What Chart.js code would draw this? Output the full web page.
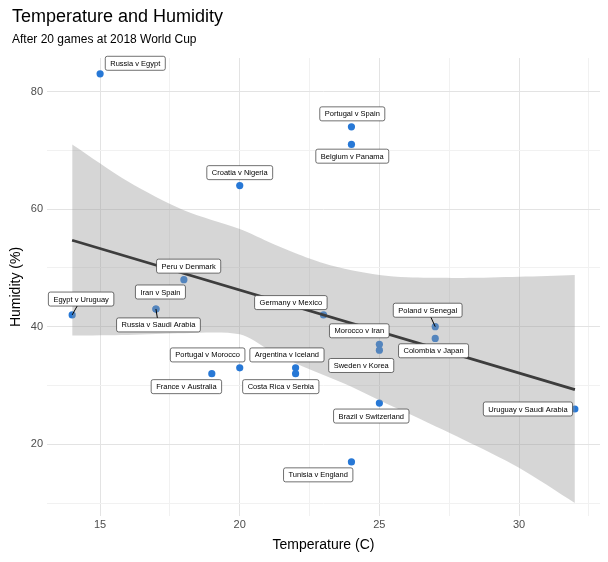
<!DOCTYPE html>
<html>
<head>
<meta charset="utf-8">
<script src="https://cdn.jsdelivr.net/npm/chart.js@4.4.1/dist/chart.umd.min.js"></script>
<style>
  body { margin: 0; background: #fff; }
  #wrap { width: 608px; height: 562px; }
</style>
</head>
<body>
<div id="wrap"><canvas id="chart"></canvas></div>
<script>
// Partidos
const games = ['Russia v Egypt', 'Portugal v Spain', 'Belgium v Panama', 'Croatia v Nigeria', 'Peru v Denmark',
  'Iran v Spain', 'Russia v Saudi Arabia', 'Egypt v Uruguay', 'Germany v Mexico', 'Poland v Senegal',
  'Colombia v Japan', 'Morocco v Iran', 'Sweden v Korea', 'Portugal v Morocco', 'Argentina v Iceland',
  'Costa Rica v Serbia', 'France v Australia', 'Brazil v Switzerland', 'Uruguay v Saudi Arabia', 'Tunisia v England'];
const temperature = [15, 24, 24, 20, 18, 17, 17, 14, 23, 27, 27, 25, 25, 20, 22, 22, 19, 25, 32, 24];
const humidity = [83, 74, 71, 64, 48, 43, 43, 42, 42, 40, 38, 37, 36, 33, 33, 32, 32, 27, 26, 17];

// Posición de las etiquetas (en unidades de datos) y si llevan segmento
const labelX = [16.26, 24.03, 24.03, 20, 18.17, 17.16, 17.09, 14.32, 21.83, 26.73, 26.94, 24.28, 24.35, 18.85, 21.69, 21.47, 18.09, 24.71, 30.32, 22.81];
const labelY = [84.8, 76.2, 69.0, 66.2, 50.3, 45.9, 40.3, 44.7, 44.1, 42.8, 35.9, 39.3, 33.4, 35.2, 35.2, 29.8, 29.8, 24.8, 26.0, 14.8];
const hasSegment = [false, false, false, false, false, false, true, true, false, true, false, false, false, false, false, false, false, false, false, false];

// Recta ajustada y banda de confianza
const fitX = [14, 32];
const fitY = [54.7, 29.3];
const bandX = [14, 16, 18, 20, 21, 22, 23, 24, 25, 26, 28, 30, 32];
const bandUpper = [71, 64.7, 59.8, 56.6, 54.5, 52.5, 50.8, 49.6, 48.8, 48.4, 48.3, 48.5, 48.8];
const bandLower = [38.5, 38.6, 38.9, 38.7, 36.2, 33.8, 31.8, 29.8, 27.5, 25.3, 20.8, 16, 10];

const xMajor = [15, 20, 25, 30];
const yMajor = [20, 40, 60, 80];

const labelPlugin = {
  id: 'repelLabels',
  afterDatasetsDraw(chart) {
    const ctx = chart.ctx;
    const xs = chart.scales.x, ys = chart.scales.y;
    ctx.save();
    ctx.font = '7.5px "Liberation Sans", Arial, sans-serif';
    ctx.textAlign = 'center';
    ctx.textBaseline = 'middle';
    games.forEach((g, i) => {
      const px = xs.getPixelForValue(temperature[i]);
      const py = ys.getPixelForValue(humidity[i]);
      const lx = xs.getPixelForValue(labelX[i]);
      const ly = ys.getPixelForValue(labelY[i]);
      if (hasSegment[i]) {
        ctx.strokeStyle = '#000';
        ctx.lineWidth = 1;
        ctx.beginPath();
        ctx.moveTo(px, py);
        ctx.lineTo(lx, ly);
        ctx.stroke();
      }
      const w = ctx.measureText(g).width + 10;
      const h = 14;
      ctx.fillStyle = '#fff';
      ctx.beginPath();
      ctx.roundRect(lx - w / 2, ly - h / 2, w, h, 2);
      ctx.fill();
      ctx.strokeStyle = '#333';
      ctx.lineWidth = 0.7;
      ctx.stroke();
      ctx.fillStyle = '#000';
      ctx.fillText(g, lx, ly + 0.5);
    });
    ctx.restore();
  }
};

const titlePlugin = {
  id: 'titles',
  afterDraw(chart) {
    const ctx = chart.ctx;
    ctx.save();
    ctx.fillStyle = '#000';
    ctx.textBaseline = 'alphabetic';
    ctx.textAlign = 'left';
    ctx.font = '18px "Liberation Sans", Arial, sans-serif';
    ctx.fillText('Temperature and Humidity', 12, 22);
    ctx.font = '12px "Liberation Sans", Arial, sans-serif';
    ctx.fillText('After 20 games at 2018 World Cup', 12, 43);
    ctx.restore();
  }
};

const gridColor = ctx => {
  const v = ctx.tick && ctx.tick.value;
  return (ctx.scale.axis === 'x' ? xMajor : yMajor).includes(v) ? '#e3e3e3' : '#f1f1f1';
};

new Chart(document.getElementById('chart'), {
  type: 'scatter',
  data: {
    datasets: [
      {
        label: 'upper',
        data: bandX.map((x, i) => ({ x: x, y: bandUpper[i] })),
        showLine: true, borderWidth: 0, pointRadius: 0,
        backgroundColor: 'rgba(153,153,153,0.4)', fill: '+1', tension: 0.3
      },
      {
        label: 'lower',
        data: bandX.map((x, i) => ({ x: x, y: bandLower[i] })),
        showLine: true, borderWidth: 0, pointRadius: 0, fill: false, tension: 0.3
      },
      {
        label: 'fit',
        data: fitX.map((x, i) => ({ x: x, y: fitY[i] })),
        showLine: true, borderColor: '#000', borderWidth: 2.8, pointRadius: 0, fill: false
      },
      {
        label: 'games',
        data: temperature.map((t, i) => ({ x: t, y: humidity[i] })),
        pointRadius: 3.6, pointBackgroundColor: '#2778d6', pointBorderWidth: 0
      }
    ]
  },
  options: {
    responsive: true,
    maintainAspectRatio: false,
    animation: false,
    layout: { padding: { top: 58, right: 8, left: 4, bottom: 4 } },
    plugins: { legend: { display: false }, tooltip: { enabled: false } },
    scales: {
      x: {
        min: 13.1, max: 32.9,
        afterBuildTicks: s => { s.ticks = [15, 17.5, 20, 22.5, 25, 27.5, 30, 32.5].map(v => ({ value: v })); },
        ticks: {
          color: '#4d4d4d', font: { size: 11, family: '"Liberation Sans", Arial' },
          callback: v => xMajor.includes(v) ? v : '', maxRotation: 0, padding: 2
        },
        grid: { color: gridColor, drawTicks: false, lineWidth: 1 },
        border: { display: false },
        title: { display: true, text: 'Temperature (C)', color: '#000', font: { size: 14, family: '"Liberation Sans", Arial' }, padding: { top: 4 } }
      },
      y: {
        min: 7.8, max: 85.7,
        afterBuildTicks: s => { s.ticks = [10, 20, 30, 40, 50, 60, 70, 80].map(v => ({ value: v })); },
        ticks: {
          color: '#4d4d4d', font: { size: 11, family: '"Liberation Sans", Arial' },
          callback: v => yMajor.includes(v) ? v : '', padding: 4
        },
        grid: { color: gridColor, drawTicks: false, lineWidth: 1 },
        border: { display: false },
        title: { display: true, text: 'Humidity (%)', color: '#000', font: { size: 14, family: '"Liberation Sans", Arial' }, padding: { bottom: 2 } }
      }
    }
  },
  plugins: [labelPlugin, titlePlugin]
});
</script>
</body>
</html>
